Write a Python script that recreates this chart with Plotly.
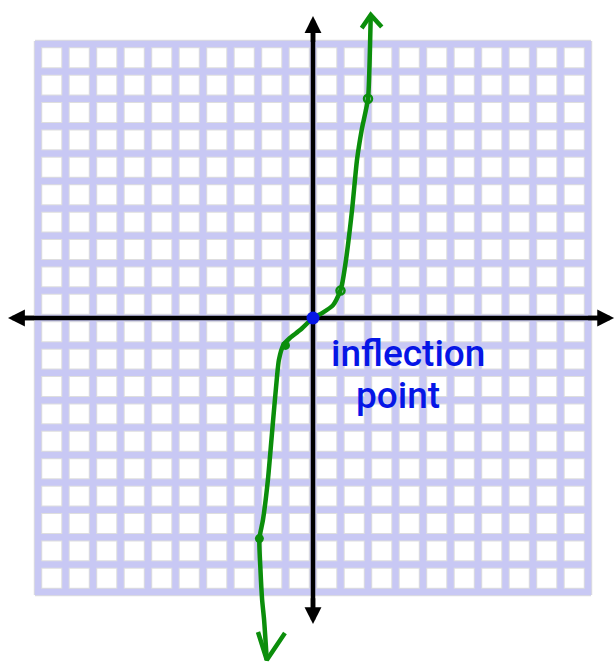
import plotly.graph_objects as go

# Sketch of y = x^3 on a 20x20 grid, with its inflection point at the origin.

# Grid extent (units)
grid_min, grid_max = -10, 10

# Axis extents (arrow tips)
x_axis_ends = [-11.09, 10.95]
y_axis_ends = [-11.17, 11.02]

# Hand-drawn curve, read point by point along the stroke
curve_x = [2.07, 2.00, 1.77, 1.60, 1.42, 1.20, 1.05, 0.98, 0.73, 0.33, 0.00,
           -0.47, -0.84, -1.08, -1.24, -1.31, -1.45, -1.64, -1.82, -1.95,
           -1.91, -1.85, -1.78, -1.68]
curve_y = [9.78, 8.00, 6.86, 5.77, 3.94, 2.12, 1.20, 0.96, 0.47, 0.18, 0.00,
           -0.44, -0.73, -0.99, -1.53, -2.15, -3.72, -5.91, -7.37, -8.05,
           -9.20, -10.29, -11.00, -12.48]

# Open arrow tips at both ends of the curve
top_tip_x = [1.77, 2.10, 2.50]
top_tip_y = [10.58, 11.06, 10.62]
top_stem_x = [2.10, 2.07]
top_stem_y = [11.06, 9.78]
bottom_tip_x = [-2.00, -1.68, -1.02]
bottom_tip_y = [-11.46, -12.48, -11.50]

# Plotted points on the curve
loop_x = [2.0, 1.0]
loop_y = [8.0, 1.0]
dot_x = [-1.0, -1.95]
dot_y = [-1.0, -8.05]

# Inflection point and its label
inflection_x = [0.0]
inflection_y = [0.0]
label_lines = ["inflection", "point"]

GREEN = "#0b8e0b"
BLUE = "#0616e6"
LAVENDER = "#c8c8f4"
SHADE = "#dedede"

ext = 0.11  # half a grid-line width, so the border corners close


def grid_path():
    xs, ys = [], []
    for k in range(grid_min, grid_max + 1):
        xs += [k, k, None]
        ys += [grid_min - ext, grid_max + ext, None]
        xs += [grid_min - ext, grid_max + ext, None]
        ys += [k, k, None]
    return xs, ys


gx, gy = grid_path()

fig = go.Figure()

# grid: faint grey edge under the lavender lines
fig.add_trace(go.Scatter(x=gx, y=gy, mode="lines",
                         line=dict(color=SHADE, width=8.5), hoverinfo="skip"))
fig.add_trace(go.Scatter(x=gx, y=gy, mode="lines",
                         line=dict(color=LAVENDER, width=6.5), hoverinfo="skip"))

# coordinate axes (shafts); heads are added as annotations below
head_back = 0.45
fig.add_trace(go.Scatter(x=[x_axis_ends[0] + head_back, x_axis_ends[1] - head_back],
                         y=[0, 0], mode="lines",
                         line=dict(color="black", width=4.5)))
fig.add_trace(go.Scatter(x=[0, 0],
                         y=[y_axis_ends[0] + head_back, y_axis_ends[1] - head_back],
                         mode="lines", line=dict(color="black", width=4.5)))

# the curve
fig.add_trace(go.Scatter(x=top_stem_x + curve_x[1:], y=top_stem_y + curve_y[1:],
                         mode="lines", line=dict(color=GREEN, width=4.5, shape="spline",
                                                 smoothing=0.6)))
fig.add_trace(go.Scatter(x=top_tip_x, y=top_tip_y, mode="lines",
                         line=dict(color=GREEN, width=4.5)))
fig.add_trace(go.Scatter(x=bottom_tip_x, y=bottom_tip_y, mode="lines",
                         line=dict(color=GREEN, width=4.5)))

# plotted points
fig.add_trace(go.Scatter(x=loop_x, y=loop_y, mode="markers",
                         marker=dict(symbol="circle-open", size=8, color=GREEN,
                                     line=dict(width=2.5, color=GREEN))))
fig.add_trace(go.Scatter(x=dot_x, y=dot_y, mode="markers",
                         marker=dict(symbol="circle", size=9, color=GREEN)))

# inflection point marker
fig.add_trace(go.Scatter(x=inflection_x, y=inflection_y, mode="markers",
                         marker=dict(symbol="circle", size=13, color=BLUE)))

# arrowheads at the four axis ends
head_style = dict(text="", showarrow=True, axref="x", ayref="y",
                  arrowhead=2, arrowwidth=4.5, arrowsize=0.75,
                  arrowcolor="black")
fig.add_annotation(x=x_axis_ends[1], y=0, ax=x_axis_ends[1] - 1.0, ay=0, **head_style)
fig.add_annotation(x=x_axis_ends[0], y=0, ax=x_axis_ends[0] + 1.0, ay=0, **head_style)
fig.add_annotation(x=0, y=y_axis_ends[1], ax=0, ay=y_axis_ends[1] - 1.0, **head_style)
fig.add_annotation(x=0, y=y_axis_ends[0], ax=0, ay=y_axis_ends[0] + 1.0, **head_style)

label_font = dict(family="Roboto", size=37, color=BLUE, weight=500)
fig.add_annotation(x=0.58, y=-0.42, text=label_lines[0], showarrow=False,
                   xanchor="left", yanchor="top", font=label_font)
fig.add_annotation(x=1.48, y=-1.98, text=label_lines[1], showarrow=False,
                   xanchor="left", yanchor="top", font=label_font)

fig.update_layout(
    width=615, height=662,
    margin=dict(l=0, r=0, t=0, b=0),
    paper_bgcolor="white", plot_bgcolor="white",
    showlegend=False,
    xaxis=dict(range=[-11.382, 10.982], visible=False, fixedrange=True),
    yaxis=dict(range=[-12.555, 11.606], visible=False, fixedrange=True),
)

fig.write_html("out.html")
